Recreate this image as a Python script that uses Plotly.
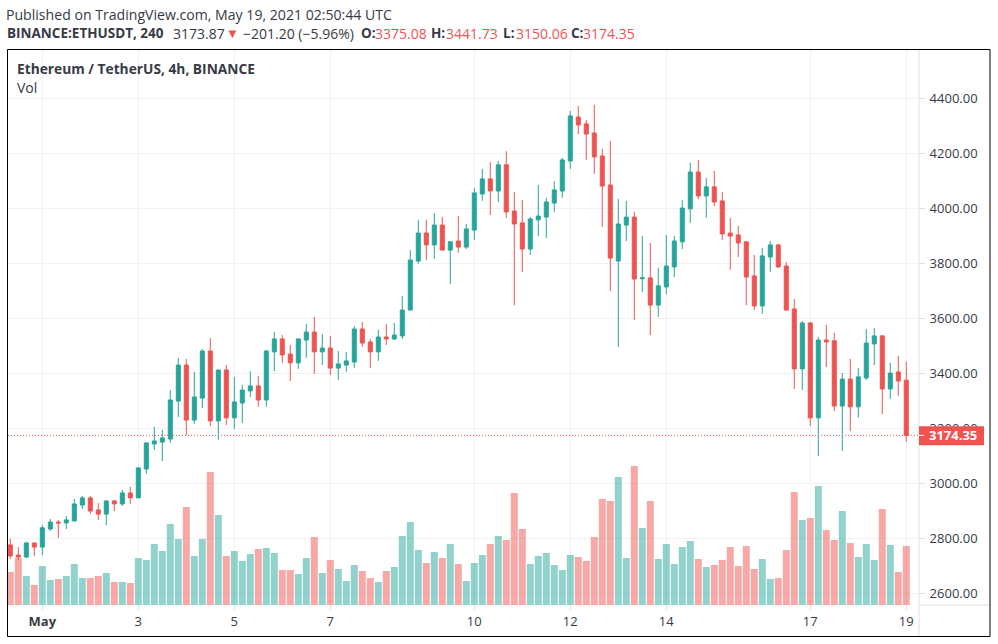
import pandas as pd
import plotly.graph_objects as go

open_ = [2776,2739,2732,2783,2768,2834,2859,2856,2863,2921,
         2947,2903,2888,2936,2925,2965,2947,3052,3143,3150,
         3161,3299,3430,3230,3310,3481,3227,3412,3238,3292,
         3336,3354,3303,3478,3525,3470,3438,3521,3550,3478,
         3492,3419,3430,3441,3561,3514,3478,3532,3525,3536,
         3630,3808,3910,3867,3939,3848,3881,3859,3921,4052,
         4107,4063,4158,3990,3947,3852,3958,3968,4019,4063,
         4172,4332,4307,4274,4190,4085,3808,3939,3968,3744,
         3747,3648,3714,3787,3878,3998,4132,4045,4078,4027,
         3910,3903,3878,3754,3645,3823,3867,3790,3634,3416,
         3583,3238,3521,3518,3281,3379,3278,3383,3507,3536,
         3343,3405,3375.08]
high = [2798,2768,2787,2783,2848,2870,2867,2881,2943,2954,
        2954,2928,2936,2939,2976,2987,3059,3147,3205,3194,
        3339,3456,3452,3405,3488,3528,3412,3430,3387,3358,
        3408,3390,3485,3550,3539,3503,3525,3579,3605,3543,
        3536,3481,3478,3572,3587,3525,3558,3579,3583,3681,
        3848,3958,3958,3983,3968,3881,3972,3943,4074,4143,
        4168,4172,4208,4059,4030,3968,4085,4038,4099,4183,
        4354,4372,4321,4376,4216,4245,4034,4027,3987,3899,
        3874,3783,3903,3899,4030,4165,4176,4110,4136,4059,
        3965,3936,3878,3830,3856,3881,3870,3805,3670,3590,
        3587,3532,3576,3547,3401,3452,3419,3561,3565,3539,
        3438,3463,3441.73]
low = [2725,2721,2728,2736,2739,2827,2801,2834,2863,2907,
       2888,2867,2848,2899,2918,2925,2947,3034,3121,3081,
       3147,3241,3176,3216,3274,3208,3158,3212,3198,3219,
       3314,3278,3278,3408,3438,3372,3416,3456,3398,3430,
       3394,3376,3405,3419,3496,3419,3445,3503,3521,3525,
       3630,3798,3812,3816,3848,3725,3838,3852,3885,4027,
       3976,4023,3965,3648,3768,3830,3899,3892,3987,4038,
       4143,4270,4176,4125,3932,3699,3496,3881,3594,3696,
       3539,3605,3688,3750,3852,3947,4034,3965,4008,3885,
       3776,3823,3648,3630,3616,3768,3783,3627,3343,3339,
       3208,3099,3423,3263,3118,3190,3238,3376,3430,3252,
       3307,3318,3150.06]
close = [2736,2732,2783,2768,2838,2859,2856,2867,2925,2947,
         2899,2888,2936,2925,2965,2947,3056,3147,3154,3165,
         3303,3430,3230,3314,3481,3227,3412,3238,3296,3339,
         3354,3303,3481,3525,3467,3438,3525,3550,3478,3492,
         3419,3434,3445,3561,3510,3478,3532,3525,3539,3630,
         3812,3910,3867,3939,3848,3878,3859,3925,4056,4107,
         4063,4158,3987,3943,3852,3961,3972,4023,4067,4176,
         4336,4303,4270,4187,4081,3819,3943,3968,3743,3747,
         3648,3718,3790,3881,4001,4132,4045,4078,4023,3907,
         3899,3874,3750,3645,3827,3867,3787,3630,3416,3583,
         3238,3521,3514,3281,3379,3278,3387,3510,3536,3343,
         3401,3372,3174.35]
volume = [99,141,87,60,117,75,78,87,123,81,
          81,87,96,69,69,66,141,135,183,162,
          243,198,294,147,198,399,270,147,162,132,
          153,168,171,156,105,105,93,141,204,96,
          135,108,72,120,102,81,69,102,114,207,
          249,165,126,159,141,183,123,72,126,150,
          183,207,195,336,228,123,147,156,120,105,
          150,144,132,204,318,312,384,141,417,231,
          312,138,183,123,174,192,138,114,120,135,
          174,117,177,108,138,78,81,165,339,255,
          261,357,225,195,282,186,144,183,135,288,
          180,99,177]

first_bar = pd.Timestamp("2021-04-30 08:00")
step = pd.Timedelta(hours=4)
times = [first_bar + step * i for i in range(len(close))]

tick_days = ["2021-05-01", "2021-05-03", "2021-05-05", "2021-05-07", "2021-05-10",
             "2021-05-12", "2021-05-14", "2021-05-17", "2021-05-19"]
tick_labels = ["<b>May</b>", "3", "5", "7", "10", "12", "14", "17", "19"]
price_ticks = [2600, 2800, 3000, 3200, 3400, 3600, 3800, 4000, 4200, 4400]

GREEN = "#26a69a"
RED = "#ef5350"
GRID = "#f1f1f3"
AXIS = "#e0e0e0"
TEXT = "#363a45"
FONT = "Open Sans"

W, H = 998, 644
L, R, T, B = 8, 919, 50, 605

vol_colors = ["rgba(38,166,154,0.5)" if c >= o else "rgba(239,83,80,0.5)"
              for o, c in zip(open_, close)]

fig = go.Figure()
fig.add_trace(go.Bar(x=times, y=volume, marker=dict(color=vol_colors, line=dict(width=0)),
                     yaxis="y", xaxis="x", hoverinfo="skip", showlegend=False))
fig.add_trace(go.Candlestick(x=times, open=open_, high=high, low=low, close=close,
                             yaxis="y2", xaxis="x", whiskerwidth=0, showlegend=False,
                             increasing=dict(line=dict(color=GREEN, width=1), fillcolor=GREEN),
                             decreasing=dict(line=dict(color=RED, width=1), fillcolor=RED)))

last = close[-1]
px_per_price = 0.275


def label(x, y, text, size=14, color=TEXT, anchor="left"):
    return dict(xref="paper", yref="paper", x=(x - L) / (R - L), y=(B - y) / (B - T),
                text=text, showarrow=False, xanchor=anchor, yanchor="middle",
                font=dict(family=FONT, size=size, color=color), borderpad=0, borderwidth=0)


annotations = [
    label(6, 14, "Published on TradingView.com, May 19, 2021 02:50:44 UTC", 14.1),
    label(7, 33, "<b>BINANCE:ETHUSDT, 240</b>", 13.5),
    label(172.5, 33, "3173.87", 14),
    label(226, 33, "▼", 13, RED),
    label(243, 33, "−201.20 (−5.96%)", 14),
    label(360.5, 33, "<b>O:</b>", 13.5), label(375, 33, "3375.08", 14, RED),
    label(431, 33, "<b>H:</b>", 13.5), label(445.5, 33, "3441.73", 14, RED),
    label(503, 33, "<b>L:</b>", 13.5), label(515.5, 33, "3150.06", 14, RED),
    label(571, 33, "<b>C:</b>", 13.5), label(583, 33, "3174.35", 14, RED),
    label(17, 68, "<b>Ethereum / TetherUS, 4h, BINANCE</b>", 13.75),
    label(17, 87, "Vol", 14),
    dict(xref="paper", yref="y2", x=(953.5 - L) / (R - L), y=last,
         text="<b>%.2f</b>" % last, showarrow=False, xanchor="center", yanchor="middle",
         font=dict(family=FONT, size=13, color="white")),
]

shapes = [
    dict(type="line", xref="paper", yref="y2", x0=0, x1=1, y0=last, y1=last, layer="above",
         line=dict(color=RED, width=1, dash="1px,2px")),
    dict(type="line", xref="paper", yref="paper", x0=1, x1=(990 - L) / (R - L), y0=0, y1=0,
         line=dict(color=AXIS, width=1), layer="above"),
    dict(type="line", xref="paper", yref="paper", x0=1, x1=1, y0=(B - 636) / (B - T), y1=1,
         line=dict(color=AXIS, width=1), layer="above"),
    dict(type="rect", xref="paper", yref="y2", x0=1, x1=(984 - L) / (R - L),
         y0=last - 10 / px_per_price, y1=last + 9 / px_per_price,
         fillcolor=RED, line=dict(width=0), layer="above"),
    dict(type="line", xref="paper", yref="y2", x0=1, x1=(924 - L) / (R - L), y0=last, y1=last,
         line=dict(color="white", width=1), layer="above"),
    dict(type="rect", xref="paper", yref="paper",
         x0=(7.5 - L) / (R - L), x1=(990 - L) / (R - L),
         y0=(B - 636.5) / (B - T), y1=(B - 49.5) / (B - T),
         line=dict(color="black", width=1), fillcolor="rgba(0,0,0,0)", layer="above"),
]

k_left = -0.2875
k_right = 113.59
fig.update_layout(
    width=W, height=H, autosize=False,
    margin=dict(l=L, r=W - R, t=T, b=H - B, pad=0),
    paper_bgcolor="white", plot_bgcolor="white",
    bargap=0.125, boxgap=0.5, boxgroupgap=0, showlegend=False, dragmode=False,
    font=dict(family=FONT, size=13, color=TEXT),
    xaxis=dict(type="date", range=[first_bar + step * k_left, first_bar + step * k_right],
               rangeslider=dict(visible=False), tickmode="array", tickvals=tick_days,
               ticktext=tick_labels, showgrid=True, gridcolor=GRID, gridwidth=1,
               ticks="outside", ticklen=4, tickcolor=AXIS, zeroline=False, showline=False,
               tickfont=dict(family=FONT, size=13, color=TEXT), automargin=False),
    yaxis=dict(range=[0, 1665], showgrid=False, zeroline=False, showticklabels=False,
               ticks="", showline=False, automargin=False),
    yaxis2=dict(overlaying="y", side="right",
                range=[2600 - (B - 593.3) / px_per_price, 4400 + (98.3 - T) / px_per_price],
                tickmode="array", tickvals=price_ticks, tickformat=".2f",
                showgrid=True, gridcolor=GRID, gridwidth=1, zeroline=False, showline=False,
                ticks="outside", ticklen=5, tickcolor=AXIS, ticklabelstandoff=2,
                tickfont=dict(family=FONT, size=13, color=TEXT), automargin=False),
    annotations=annotations, shapes=shapes,
)

fig.write_html("out.html", config=dict(displayModeBar=False),
               post_script="document.body.style.margin='0';")
